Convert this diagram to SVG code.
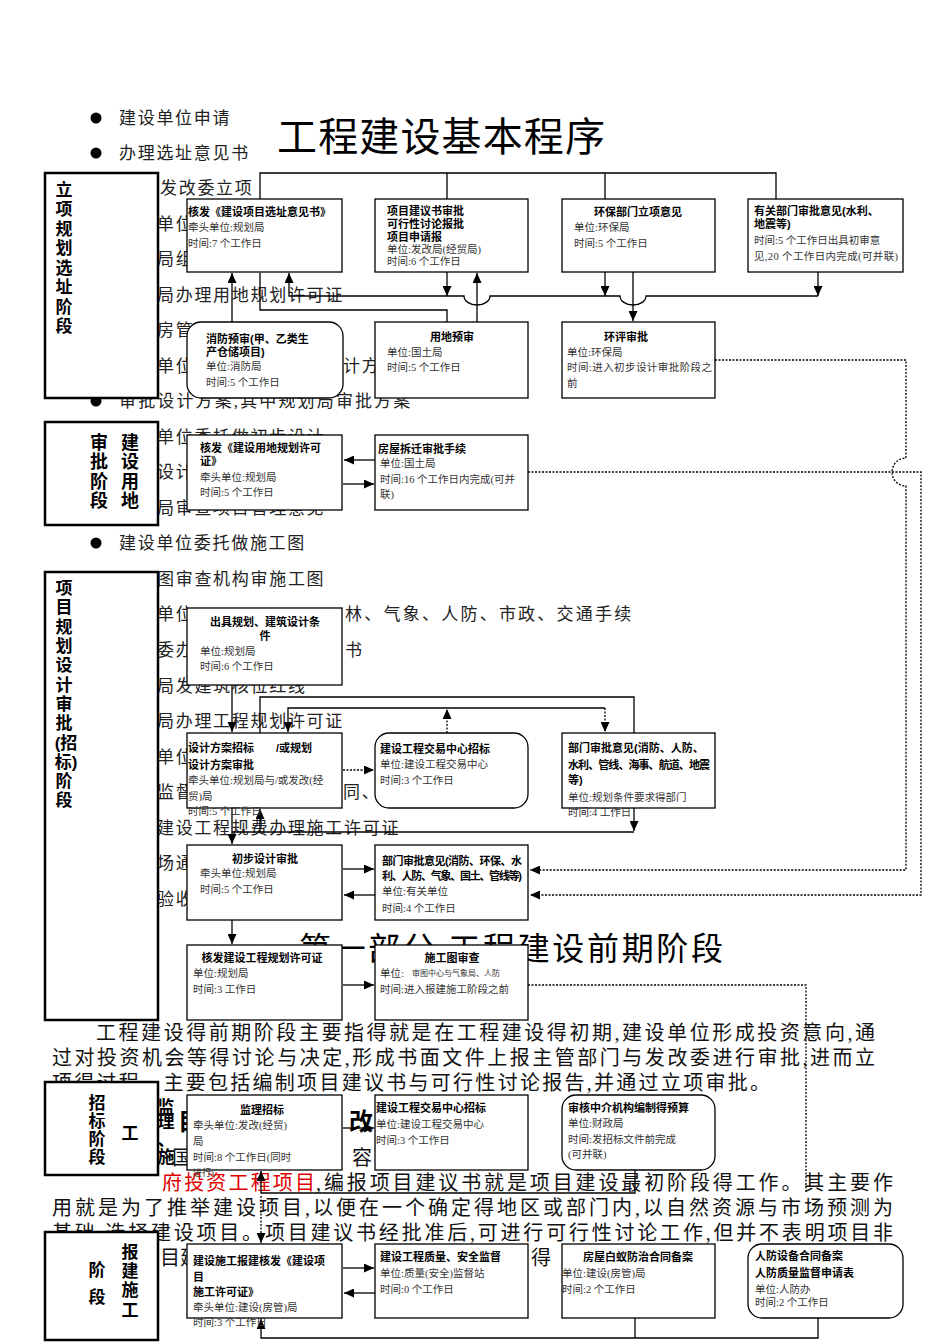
<svg xmlns="http://www.w3.org/2000/svg" width="950" height="1344" viewBox="0 0 950 1344">
<style>
.bg{font-family:"Liberation Serif","Noto Sans CJK SC",serif;font-size:17px;letter-spacing:1.7px;fill:#222}
.pg{font-family:"Liberation Serif","Noto Sans CJK SC",serif;font-size:20px;fill:#111}
.t{font-family:"Liberation Sans","Noto Sans CJK SC",sans-serif;font-size:11px;font-weight:bold;fill:#000}
.tc{font-family:"Liberation Sans","Noto Sans CJK SC",sans-serif;font-size:11px;font-weight:bold;fill:#000;text-anchor:middle}
.b{font-family:"Liberation Serif","Noto Sans CJK SC",serif;font-size:10.5px;fill:#333}
.ph{font-family:"Liberation Sans","Noto Sans CJK SC",sans-serif;font-size:17px;font-weight:bold;text-anchor:middle;fill:#000}
.nd rect{fill:#fff;stroke:#000;stroke-width:1.3}
.pb rect{fill:#fff;stroke:#000;stroke-width:2.5}
.c path{fill:none;stroke:#000;stroke-width:1.3}
.c path.d{stroke-dasharray:2 1.5}
.c path.a{marker-end:url(#ah)}
</style>
<defs>
<marker id="ah" markerUnits="userSpaceOnUse" markerWidth="10" markerHeight="9" refX="10" refY="4.5" orient="auto"><path d="M0,0 L10,4.5 L0,9 z" fill="#000"/></marker>
</defs>
<rect width="950" height="1344" fill="#fff"/>

<g id="background-text">
<text x="277" y="151" style="font-family:'Liberation Sans','Noto Sans CJK SC',sans-serif;font-size:40px" textLength="328">工程建设基本程序</text>
<circle cx="96" cy="118" r="5.5"/><text class="bg" x="119" y="124">建设单位申请</text>
<circle cx="96" cy="153" r="5.5"/><text class="bg" x="119" y="159">办理选址意见书</text>
<text class="bg" x="160" y="194">发改委立项</text>
<text class="bg" x="157" y="230">单位</text>
<text class="bg" x="157" y="265">局组</text>
<text class="bg" x="157" y="301">局办理用地规划许可证</text>
<text class="bg" x="157" y="336">房管</text>
<text class="bg" x="157" y="372">单位</text><text class="bg" x="343" y="372">计方</text>
<circle cx="96" cy="401" r="5.5"/><text class="bg" x="119" y="407" textLength="293">审批设计方案,其中规划局审批方案</text>
<text class="bg" x="157" y="443">单位委托做初步设计</text>
<text class="bg" x="157" y="478">设计</text>
<text class="bg" x="157" y="514">局审查项目管理意见</text>
<circle cx="96" cy="543" r="5.5"/><text class="bg" x="119" y="549">建设单位委托做施工图</text>
<text class="bg" x="157" y="585">图审查机构审施工图</text>
<text class="bg" x="157" y="620">单位</text><text class="bg" x="345" y="620" textLength="288">林、气象、人防、市政、交通手续</text>
<text class="bg" x="157" y="656">委办</text><text class="bg" x="345" y="656">书</text>
<text class="bg" x="157" y="692">局发建筑核位红线</text>
<text class="bg" x="157" y="727">局办理工程规划许可证</text>
<text class="bg" x="157" y="763">单位</text>
<text class="bg" x="157" y="798">监督</text><text class="bg" x="343" y="798">同、</text>
<text class="bg" x="157" y="834">建设工程规费办理施工许可证</text>
<text class="bg" x="157" y="869">场通</text>
<text class="bg" x="157" y="905">验收</text>
<text x="299" y="960" style="font-family:'Liberation Serif','Noto Sans CJK SC',serif;font-size:32px" textLength="424">第一部分 工程建设前期阶段</text>
<text class="pg" x="96" y="1040" textLength="779">工程建设得前期阶段主要指得就是在工程建设得初期,建设单位形成投资意向,通</text>
<text class="pg" x="52" y="1065" textLength="823">过对投资机会等得讨论与决定,形成书面文件上报主管部门与发改委进行审批,进而立</text>
<text class="pg" x="52" y="1090" textLength="718">项得过程。主要包括编制项目建议书与可行性讨论报告,并通过立项审批。</text>
<text x="178" y="1130" style="font-family:'Noto Sans CJK SC',sans-serif;font-size:24px;font-weight:bold">目</text>
<text x="349" y="1130" style="font-family:'Noto Sans CJK SC',sans-serif;font-size:24px;font-weight:bold">改</text>
<text class="pg" x="172" y="1165">国</text><text class="pg" x="352" y="1165">容</text>
<text class="pg" x="162" y="1190" textLength="153" style="fill:#e00000">府投资工程项目</text>
<text class="pg" x="316" y="1190" textLength="577">,编报项目建议书就是项目建设最初阶段得工作。其主要作</text>
<text class="pg" x="52" y="1215" textLength="841">用就是为了推举建设项目,以便在一个确定得地区或部门内,以自然资源与市场预测为</text>
<text class="pg" x="52" y="1240" textLength="841">基础,选择建设项目。项目建议书经批准后,可进行可行性讨论工作,但并不表明项目非</text>
<text class="pg" x="160" y="1265">目建</text><text class="pg" x="531" y="1265">得</text>
</g>

<g class="c" id="connectors">
<path d="M260,199 V173 H776 V199 M447,173 V199 M605,173 V199"/>
<path class="a" d="M447,272 V296"/>
<path class="a" d="M605,272 V296"/>
<path class="a" d="M818,272 V296"/>
<path class="a" d="M818,296 H646 A13,9 0 0 1 620,296 H490 A13,9 0 0 1 464,296 H289 V273"/>
<path class="a" d="M477,322 V273"/>
<path class="a" d="M633,272 V321"/>
<path class="a" d="M232,322 V273"/>
<path d="M260,273 V310 H447 V322"/>
<path class="a" d="M375,460 H344"/>
<path class="a" d="M343,484 H374"/>
<path class="d a" d="M715,360 H906 V458 A14,14 0 0 0 906,486 V870 H530"/>
<path class="d a" d="M528,472 H921 V895 H530"/>
<path class="a" d="M232,685 V732"/>
<path class="d a" d="M447,733 V709"/>
<path class="a" d="M447,708 H288 V732"/>
<path d="M447,708 H605"/>
<path class="d a" d="M605,708 V732"/>
<path d="M260,733 V697 H634 V733"/>
<path class="d a" d="M343,770 H374"/>
<path class="a" d="M634,808 V831"/>
<path d="M634,832 H232"/>
<path class="a" d="M232,808 V844"/>
<path class="a" d="M260,832 V809"/>
<path class="a" d="M343,869 H374"/>
<path class="a" d="M375,895 H344"/>
<path class="a" d="M232,920 V944"/>
<path class="a" d="M343,985 H374"/>
<path class="d" d="M528,985 H806 V1192"/>
<path class="a" d="M343,1128 H374"/>
<path class="a" d="M635,1170 V1193 H261 V1171"/>
<path class="d a" d="M261,1196 V1243"/>
<path class="a" d="M343,1268 H374"/>
<path class="a" d="M375,1293 H344"/>
<path class="a" d="M818,1318 V1338 H261 V1319"/>
<path d="M635,1318 V1338"/>
</g>

<g class="pb" id="phase1"><rect x="45" y="173" width="113" height="225"/>
<text class="ph" x="64" y="196">立</text><text class="ph" x="64" y="215">项</text><text class="ph" x="64" y="235">规</text><text class="ph" x="64" y="254">划</text><text class="ph" x="64" y="274">选</text><text class="ph" x="64" y="293">址</text><text class="ph" x="64" y="313">阶</text><text class="ph" x="64" y="332">段</text></g>
<g class="pb" id="phase2"><rect x="45" y="422" width="113" height="103"/>
<text class="ph" x="99" y="449" style="font-size:18px">审</text><text class="ph" x="99" y="468" style="font-size:18px">批</text><text class="ph" x="99" y="488" style="font-size:18px">阶</text><text class="ph" x="99" y="507" style="font-size:18px">段</text>
<text class="ph" x="130" y="449" style="font-size:18px">建</text><text class="ph" x="130" y="468" style="font-size:18px">设</text><text class="ph" x="130" y="488" style="font-size:18px">用</text><text class="ph" x="130" y="507" style="font-size:18px">地</text></g>
<g class="pb" id="phase3"><rect x="45" y="572" width="113" height="448"/>
<text class="ph" x="64" y="594">项</text><text class="ph" x="64" y="613">目</text><text class="ph" x="64" y="633">规</text><text class="ph" x="64" y="652">划</text><text class="ph" x="64" y="671">设</text><text class="ph" x="64" y="691">计</text><text class="ph" x="64" y="710">审</text><text class="ph" x="64" y="729">批</text><text class="ph" x="66" y="749">(招</text><text class="ph" x="66" y="768">标)</text><text class="ph" x="64" y="787">阶</text><text class="ph" x="64" y="806">段</text></g>
<g class="pb" id="phase4"><rect x="45" y="1082" width="113" height="93"/>
<text class="ph" x="97" y="1109">招</text><text class="ph" x="97" y="1127">标</text><text class="ph" x="97" y="1145">阶</text><text class="ph" x="97" y="1163">段</text><text class="ph" x="130" y="1139">工</text></g>
<g id="phase4-label"><text class="ph" x="166" y="1113">监</text><text class="ph" x="166" y="1128">理</text><text class="ph" x="166" y="1146">、</text><text class="ph" x="166" y="1163">施</text></g>
<g class="pb" id="phase5"><rect x="45" y="1232" width="113" height="108"/>
<text class="ph" x="97" y="1276">阶</text><text class="ph" x="97" y="1303">段</text>
<text class="ph" x="130" y="1258">报</text><text class="ph" x="130" y="1277">建</text><text class="ph" x="130" y="1296">施</text><text class="ph" x="130" y="1316">工</text></g>

<g class="nd" id="nA"><rect x="187" y="199" width="155" height="73"/>
<text class="t" x="188" y="216">核发《建设项目选址意见书》</text><text class="b" x="188" y="231">牵头单位:规划局</text><text class="b" x="188" y="247">时间:7 个工作日</text></g>
<g class="nd" id="nB"><rect x="375" y="199" width="153" height="73"/>
<text class="t" x="387" y="215">项目建议书审批</text><text class="t" x="387" y="228">可行性讨论报批</text><text class="t" x="387" y="241">项目申请报</text><text class="b" x="387" y="253">单位:发改局(经贸局)</text><text class="b" x="387" y="265">时间:6 个工作日</text></g>
<g class="nd" id="nC"><rect x="562" y="199" width="153" height="73"/>
<text class="tc" x="638" y="216">环保部门立项意见</text><text class="b" x="574" y="231">单位:环保局</text><text class="b" x="574" y="247">时间:5 个工作日</text></g>
<g class="nd" id="nD"><rect x="748" y="199" width="155" height="73"/>
<text class="t" x="754" y="215">有关部门审批意见(水利、</text><text class="t" x="754" y="228">地震等)</text><text class="b" x="754" y="244">时间:5 个工作日出具初审意</text><text class="b" x="754" y="260" textLength="144">见,20 个工作日内完成(可并联)</text></g>
<g class="nd" id="nE"><rect x="187" y="322" width="156" height="76" rx="14"/>
<text class="t" x="206" y="343">消防预审(甲、乙类生</text><text class="t" x="206" y="356">产仓储项目)</text><text class="b" x="206" y="370">单位:消防局</text><text class="b" x="206" y="386">时间:5 个工作日</text></g>
<g class="nd" id="nF"><rect x="375" y="322" width="153" height="76"/>
<text class="tc" x="452" y="341">用地预审</text><text class="b" x="387" y="356">单位:国土局</text><text class="b" x="387" y="371">时间:5 个工作日</text></g>
<g class="nd" id="nG"><rect x="562" y="322" width="153" height="76"/>
<text class="tc" x="626" y="341">环评审批</text><text class="b" x="567" y="356">单位:环保局</text><text class="b" x="567" y="371" textLength="145">时间:进入初步设计审批阶段之</text><text class="b" x="567" y="387">前</text></g>
<g class="nd" id="nH"><rect x="187" y="435" width="155" height="75"/>
<text class="t" x="200" y="452">核发《建设用地规划许可</text><text class="t" x="200" y="465">证》</text><text class="b" x="200" y="481">牵头单位:规划局</text><text class="b" x="200" y="496">时间:5 个工作日</text></g>
<g class="nd" id="nI"><rect x="375" y="435" width="153" height="75"/>
<text class="t" x="378" y="453">房屋拆迁审批手续</text><text class="b" x="380" y="467">单位:国土局</text><text class="b" x="380" y="483">时间:16 个工作日内完成(可并</text><text class="b" x="380" y="498">联)</text></g>
<g class="nd" id="nJ"><rect x="187" y="608" width="155" height="77"/>
<text class="tc" x="265" y="626">出具规划、建筑设计条</text><text class="tc" x="265" y="640">件</text><text class="b" x="200" y="655">单位:规划局</text><text class="b" x="200" y="670">时间:6 个工作日</text></g>
<g class="nd" id="nK"><rect x="187" y="733" width="155" height="75"/>
<text class="t" x="188" y="752">设计方案招标</text><text class="t" x="276" y="752">/或规划</text><text class="t" x="188" y="769">设计方案审批</text><text class="b" x="188" y="784">牵头单位:规划局与/或发改(经</text><text class="b" x="188" y="800">贸)局</text><text class="b" x="188" y="815">时间:5 个工作日</text></g>
<g class="nd" id="nL"><rect x="375" y="733" width="153" height="75" rx="14"/>
<text class="t" x="380" y="753">建设工程交易中心招标</text><text class="b" x="380" y="768">单位:建设工程交易中心</text><text class="b" x="380" y="784">时间:3 个工作日</text></g>
<g class="nd" id="nM"><rect x="562" y="733" width="153" height="75"/>
<text class="t" x="568" y="752">部门审批意见(消防、人防、</text><text class="t" x="568" y="769" textLength="142">水利、管线、海事、航道、地震</text><text class="t" x="568" y="784">等)</text><text class="b" x="568" y="801">单位:规划条件要求得部门</text><text class="b" x="568" y="816">时间:4 工作日</text></g>
<g class="nd" id="nN"><rect x="187" y="845" width="155" height="75"/>
<text class="tc" x="265" y="863">初步设计审批</text><text class="b" x="200" y="877">牵头单位:规划局</text><text class="b" x="200" y="893">时间:5 个工作日</text></g>
<g class="nd" id="nO"><rect x="375" y="845" width="153" height="75"/>
<text class="t" x="382" y="865" textLength="140">部门审批意见(消防、环保、水</text><text class="t" x="382" y="880" textLength="140">利、人防、气象、国土、管线等)</text><text class="b" x="382" y="895">单位:有关单位</text><text class="b" x="382" y="912">时间:4 个工作日</text></g>
<g class="nd" id="nP"><rect x="187" y="945" width="155" height="75"/>
<text class="tc" x="262" y="962">核发建设工程规划许可证</text><text class="b" x="193" y="977">单位:规划局</text><text class="b" x="193" y="993">时间:3 工作日</text></g>
<g class="nd" id="nQ"><rect x="375" y="945" width="153" height="75"/>
<text class="tc" x="452" y="962">施工图审查</text><text class="b" x="380" y="977">单位:</text><text class="b" x="412" y="976" style="font-size:8px">审图中心与气象局、人防</text><text class="b" x="380" y="993">时间:进入报建施工阶段之前</text></g>
<g class="nd" id="nR"><rect x="187" y="1095" width="155" height="75"/>
<text class="tc" x="262" y="1114">监理招标</text><text class="b" x="193" y="1129">牵头单位:发改(经贸)</text><text class="b" x="193" y="1145">局</text><text class="b" x="193" y="1161">时间:8 个工作日(同时</text><text class="b" x="193" y="1176" style="font-size:9px">进行)</text></g>
<g class="nd" id="nS"><rect x="375" y="1095" width="153" height="75"/>
<text class="t" x="376" y="1112">建设工程交易中心招标</text><text class="b" x="376" y="1128">单位:建设工程交易中心</text><text class="b" x="376" y="1144">时间:3 个工作日</text></g>
<g class="nd" id="nT"><rect x="562" y="1095" width="153" height="75" rx="14"/>
<text class="t" x="568" y="1112">审核中介机构编制得预算</text><text class="b" x="568" y="1127">单位:财政局</text><text class="b" x="568" y="1143">时间:发招标文件前完成</text><text class="b" x="568" y="1158">(可并联)</text></g>
<g class="nd" id="nU"><rect x="187" y="1244" width="155" height="74"/>
<text class="t" x="193" y="1265">建设施工报建核发《建设项</text><text class="t" x="193" y="1281">目</text><text class="t" x="193" y="1296">施工许可证》</text><text class="b" x="193" y="1311">牵头单位:建设(房管)局</text><text class="b" x="193" y="1326">时间:3 个工作日</text></g>
<g class="nd" id="nV"><rect x="375" y="1244" width="153" height="74"/>
<text class="t" x="380" y="1261">建设工程质量、安全监督</text><text class="b" x="380" y="1277">单位:质量(安全)监督站</text><text class="b" x="380" y="1293">时间:0 个工作日</text></g>
<g class="nd" id="nW"><rect x="562" y="1244" width="153" height="74"/>
<text class="tc" x="638" y="1261">房屋白蚁防治合同备案</text><text class="b" x="562" y="1277">单位:建设(房管)局</text><text class="b" x="562" y="1293">时间:2 个工作日</text></g>
<g class="nd" id="nX"><rect x="748" y="1244" width="155" height="74" rx="14"/>
<text class="t" x="755" y="1260">人防设备合同备案</text><text class="t" x="755" y="1277">人防质量监督申请表</text><text class="b" x="755" y="1293">单位:人防办</text><text class="b" x="755" y="1306">时间:2 个工作日</text></g>
</svg>
